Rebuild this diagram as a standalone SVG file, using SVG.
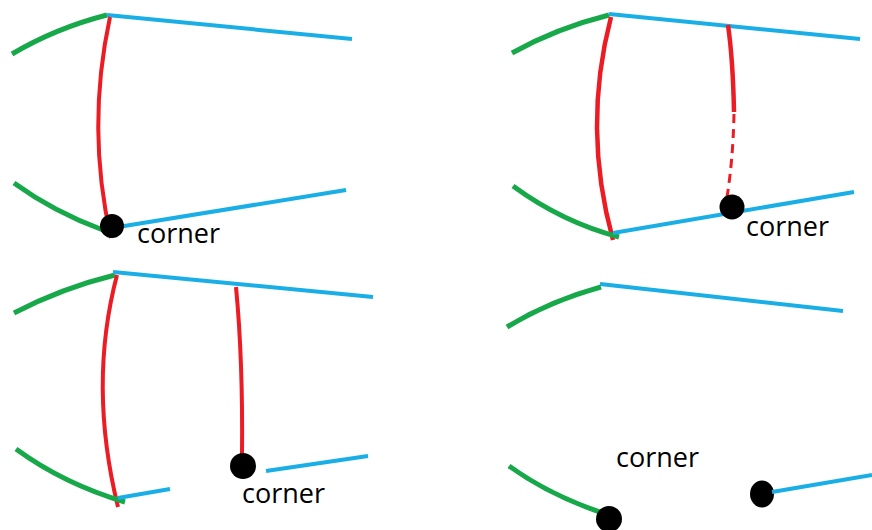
<svg xmlns="http://www.w3.org/2000/svg" width="872" height="530" viewBox="0 0 872 530">
<style>
.g{fill:none;stroke:#17a84a;stroke-width:5}
.b{fill:none;stroke:#1aaee6;stroke-width:4}
.r{fill:none;stroke:#ec1c24;stroke-width:4}
.rd{fill:none;stroke:#ec1c24;stroke-width:3;stroke-dasharray:9,6}
.dot{fill:#000}
.t{font-family:"Open Sans","Liberation Sans",sans-serif;font-size:27px;fill:#000}
</style>
<rect width="872" height="530" fill="#fff"/>
<g id="panel1">
<path class="g" d="M12,54 Q56,28 107,15"/>
<path class="b" d="M107,15 L352,39"/>
<path class="r" d="M110,17 Q86,128 111,238"/>
<path class="g" d="M14,183 Q54,212 103,230"/>
<path class="b" d="M112,228 L346,190"/>
<circle class="dot" cx="112" cy="226" r="12"/>
<text class="t" x="137" y="243">corner</text>
</g>
<g id="panel2">
<path class="g" d="M512,53 Q557,28 609,15"/>
<path class="b" d="M609,14 L860,39"/>
<path class="r" d="M611,17 Q582,128 613,240" style="stroke-width:4.5"/>
<path class="g" d="M513,186 Q562,222 619,237"/>
<path class="b" d="M613,233 L854,192"/>
<path class="r" d="M728,25 Q733,60 734,112" style="stroke-width:4.5"/>
<path class="rd" d="M734,114 Q733,160 727,197"/>
<circle class="dot" cx="732" cy="207" r="12.5"/>
<text class="t" x="746" y="236">corner</text>
</g>
<g id="panel3">
<path class="g" d="M14,313 Q62,288 115,275"/>
<path class="b" d="M113,272 L373,297"/>
<path class="r" d="M117,275 Q88,385 118,507"/>
<path class="g" d="M16,449 Q64,484 125,502"/>
<path class="b" d="M118,498 L170,489"/>
<path class="r" d="M236,287 Q243,360 242,455"/>
<circle class="dot" cx="243" cy="466" r="13"/>
<path class="b" d="M266,471 L368,456"/>
<text class="t" x="242" y="503">corner</text>
</g>
<g id="panel4">
<path class="g" d="M507,327 Q550,301 601,287"/>
<path class="b" d="M600,284 L843,311"/>
<text class="t" x="616" y="467">corner</text>
<path class="g" d="M509,466 Q552,497 609,515"/>
<circle class="dot" cx="609" cy="519" r="13"/>
<ellipse class="dot" cx="762" cy="494" rx="12" ry="13.5"/>
<path class="b" d="M772,492 L872,475"/>
</g>
</svg>
